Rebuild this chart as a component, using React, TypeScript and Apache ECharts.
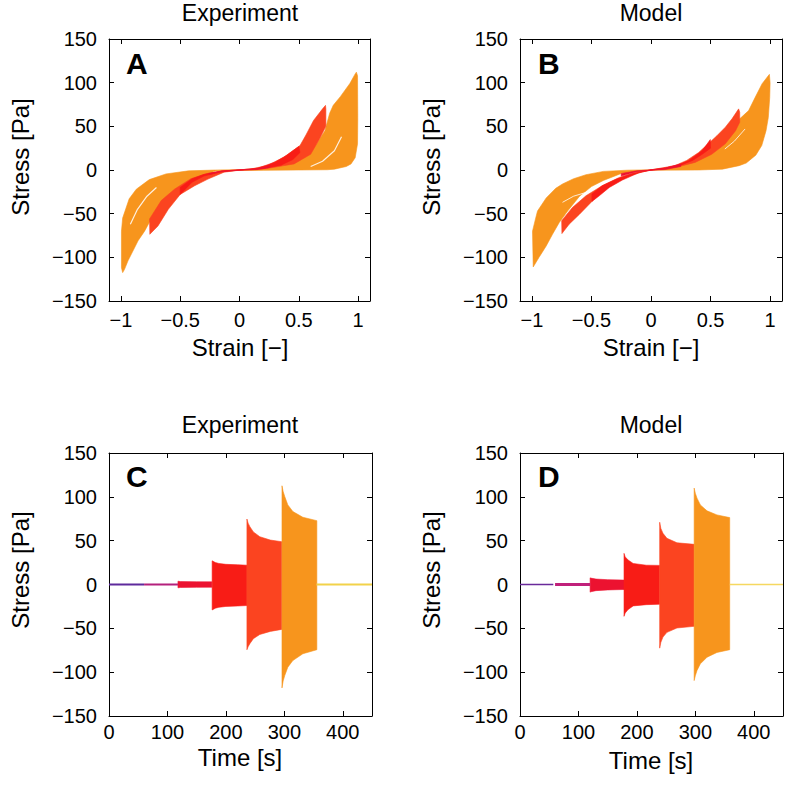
import React, { useEffect, useRef } from "react";
import * as echarts from "echarts";

type P = [number, number];

// ---------- Panel A (experiment) hysteresis loops: outlines [strain, stress]
const expOrange: P[] = [
  [-0.995, -70], [-0.985, -55], [-0.965, -47], [-0.93, -33], [-0.87, -22], [-0.8, -15], [-0.76, -11],
  [-0.62, -4.5], [-0.43, -1], [-0.2, 0], [0, 0.4], [0.2, 1.5], [0.4, 6], [0.55, 16], [0.65, 30],
  [0.72, 45], [0.76, 65], [0.79, 74], [0.85, 84], [0.93, 99], [0.975, 110], [0.985, 112],
  [0.995, 108], [0.997, 60], [0.995, 30], [0.975, 14], [0.94, 7], [0.9, 4], [0.8, 1], [0.74, 0.3],
  [0.5, 0], [0.2, -0.4], [0, -0.5], [-0.2, -1], [-0.4, -12], [-0.55, -26], [-0.66, -40], [-0.76, -60],
  [-0.8, -70], [-0.855, -81], [-0.94, -104], [-0.97, -114], [-0.985, -117.5], [-0.995, -112],
];
const expRed: P[] = [
  [-0.758, -56], [-0.66, -35], [-0.546, -21.8], [-0.41, -10], [-0.27, -4], [-0.13, -1], [0, 0.2],
  [0.09, 1], [0.232, 5], [0.372, 14.5], [0.51, 28], [0.56, 40], [0.624, 56.7], [0.7, 70], [0.725, 74],
  [0.728, 70], [0.728, 50], [0.68, 37], [0.6, 18], [0.46, 7], [0.23, 1.7], [0.1, 0.3], [0, -0.2],
  [-0.13, -2.5], [-0.266, -10.4], [-0.378, -18], [-0.5, -28], [-0.6, -45], [-0.687, -64], [-0.756, -73.6],
];
const expDarkRed: P[] = [
  [-0.5, -20], [-0.4, -10], [-0.3, -5], [-0.15, -1], [0, 0.1], [0.15, 2], [0.3, 9], [0.4, 17], [0.5, 27],
  [0.51, 20], [0.45, 12], [0.35, 5.5], [0.2, 1.5], [0, -0.1], [-0.15, -2], [-0.3, -7], [-0.4, -14], [-0.5, -28],
];
const expCrimson: P[] = [
  [-0.26, -4], [-0.15, -1.2], [0, 0.2], [0.15, 1.5], [0.26, 5], [0.25, 3], [0.15, 0.5], [0, -0.2],
  [-0.15, -1.8], [-0.25, -5],
];
const expStreak1: P[] = [[0.6, 4], [0.7, 10], [0.8, 22], [0.86, 38]];
const expStreak2: P[] = [[-0.92, -62], [-0.86, -45], [-0.78, -30], [-0.7, -20]];

// ---------- Panel B (model) hysteresis loops
const modOrange: P[] = [
  [-0.995, -70], [-0.97, -56], [-0.953, -47], [-0.88, -32], [-0.8, -21], [-0.743, -16], [-0.65, -10],
  [-0.546, -5.4], [-0.4, -1.6], [-0.2, -0.2], [0, 0.3], [0.2, 4], [0.4, 14], [0.55, 30], [0.65, 45],
  [0.74, 58], [0.82, 68], [0.876, 83.5], [0.933, 98.8], [0.994, 109.5],
  [1.0, 100], [0.997, 83], [0.985, 60], [0.966, 45], [0.93, 28], [0.88, 17], [0.8, 8], [0.74, 5],
  [0.6, 1], [0.4, 0], [0, -0.3], [-0.25, -4], [-0.4, -12], [-0.5, -19], [-0.6, -30], [-0.7, -47],
  [-0.77, -60], [-0.827, -73.6], [-0.88, -87], [-0.94, -100], [-0.989, -111],
];
const modRed: P[] = [
  [-0.75, -58], [-0.66, -43], [-0.546, -29.5], [-0.41, -18], [-0.266, -8.5], [-0.15, -3.5], [0, 0.2],
  [0.1, 1.5], [0.2, 5], [0.3, 11], [0.4, 20], [0.51, 33.7], [0.555, 39.4], [0.624, 49], [0.68, 58.6],
  [0.736, 70], [0.745, 66], [0.745, 54.7], [0.71, 45], [0.624, 30], [0.51, 18], [0.37, 8.7], [0.23, 3.8],
  [0.1, 1], [0, -0.2], [-0.04, -1], [-0.18, -6.6], [-0.29, -13], [-0.41, -23.8], [-0.496, -36],
  [-0.6, -50.6], [-0.687, -62], [-0.748, -72.8],
];
const modDarkRed: P[] = [
  [-0.496, -27.6], [-0.41, -18], [-0.29, -10.4], [-0.15, -4], [0, 0.2], [0.12, 3], [0.23, 6], [0.316, 10.7],
  [0.43, 22], [0.498, 34.8], [0.5, 25], [0.43, 18], [0.35, 11], [0.24, 5], [0.12, 1.5], [0, -0.2],
  [-0.1, -3], [-0.24, -11.5], [-0.35, -20], [-0.434, -29.5], [-0.496, -36],
];
const modCrimson: P[] = [
  [-0.25, -4], [-0.12, -1], [0, 0.2], [0.12, 2], [0.25, 6.9], [0.25, 4], [0.12, 0.5], [0, -0.2],
  [-0.12, -2], [-0.25, -7],
];
const modStreak1: P[] = [[0.62, 24], [0.7, 33], [0.79, 47]];
const modStreak2: P[] = [[-0.743, -37], [-0.65, -30], [-0.546, -25.7]];

// ---------- Panel C (experiment) time series: envelopes [s] / [Pa]
const expPurple: P[] = [[0, 0], [60, 0]];
const expMagenta: P[] = [[60, 0], [118, 0]];
const expYellow: P[] = [[355, 0], [450, 0]];
const expT3 = [118, 122, 150, 176];
const expU3 = [3.8, 3.3, 3.1, 3.0];
const expL3 = [-3.8, -3.4, -3.2, -3.1];
const expT4 = [176.5, 178, 182, 188, 200, 220, 236];
const expU4 = [27, 26.5, 25, 24, 23, 22.5, 22];
const expL4 = [-29, -28.5, -27, -26, -25, -24.5, -24];
const expT5 = [236, 238, 241, 247, 258, 276, 295.6];
const expU5 = [74.7, 70, 66, 60, 54.5, 50.7, 48.8];
const expL5 = [-74.4, -71, -67.5, -61.8, -57, -53.5, -51.2];
const expT6 = [296, 298, 300.7, 306, 314.6, 331.7, 355.6];
const expU6 = [112.6, 106, 100.3, 90.8, 83.2, 76.7, 72.8];
const expL6 = [-118, -110, -103.9, -94.3, -86.7, -79, -74.4];

// ---------- Panel D (model) time series
const modPurple: P[] = [[0, 0], [57, 0]];
const modMagenta: P[] = [[60, 0], [120, 0]];
const modYellow: P[] = [[359, 0], [450, 0]];
const modT3 = [120, 121, 130, 150, 178];
const modU3 = [7.6, 7.3, 6.2, 5.5, 5];
const modL3 = [-8.8, -8.3, -7, -6.2, -5.7];
const modT4 = [178, 180, 185, 193.6, 216, 238.8];
const modU4 = [35.5, 31.5, 27.9, 24, 22, 21.8];
const modL4 = [-36.3, -32.5, -28.6, -24.4, -23, -22.5];
const modT5 = [239, 241, 244.6, 251.4, 268.6, 298];
const modU5 = [71, 64, 58.4, 52.7, 47.6, 45.8];
const modL5 = [-72.6, -66, -60, -54.6, -49.6, -47.7];
const modT6 = [298, 300, 302.9, 308.6, 320, 337, 358.8];
const modU6 = [110, 104, 98.5, 90.8, 84, 79.4, 76.3];
const modL6 = [-109.6, -104, -98, -90.5, -82.9, -77.5, -74.4];

// ---------- ticks
const strainTicks = [-1, -0.5, 0, 0.5, 1];
const timeTicks = [0, 100, 200, 300, 400];
const stressTicks = [-150, -100, -50, 0, 50, 100, 150];

// ---------- styles
const FONT = '"Liberation Sans", Arial, Helvetica, sans-serif';
const C_PURPLE = "#5e2a9c";
const C_MAGENTA = "#b4207c";
const C_CRIMSON = "#ec1230";
const C_RED = "#f81c16";
const C_ORANGERED = "#fb4420";
const C_ORANGE = "#f7951d";
const C_YELLOW = "#f2d24a";

const minus = (v: number) => String(v).replace("-", "\u2212");

function loopSeries(loops: { pts: P[]; color: string }[], gi: number) {
  return {
    type: "custom",
    xAxisIndex: 2 * gi,
    yAxisIndex: 2 * gi,
    silent: true,
    clip: true,
    data: loops.map((l) => l.pts[0]),
    renderItem: (params: any, api: any) => {
      const l = loops[params.dataIndex];
      return {
        type: "polygon",
        shape: { points: l.pts.map((p) => api.coord(p)) },
        style: { fill: l.color, stroke: l.color, lineWidth: 0.6 },
      };
    },
  };
}

function bandSeries(bands: { t: number[]; up: number[]; lo: number[]; color: string }[], gi: number) {
  return {
    type: "custom",
    xAxisIndex: 2 * gi,
    yAxisIndex: 2 * gi,
    silent: true,
    clip: true,
    data: bands.map((b) => [b.t[0], 0]),
    renderItem: (params: any, api: any) => {
      const b = bands[params.dataIndex];
      const upper = b.t.map((x, i) => api.coord([x, b.up[i]]));
      const lower = b.t.map((x, i) => api.coord([x, b.lo[i]])).reverse();
      return {
        type: "polygon",
        shape: { points: upper.concat(lower) },
        style: { fill: b.color, stroke: b.color, lineWidth: 0.6 },
      };
    },
  };
}

function lineSeries(data: P[], gi: number, color: string, width: number, opacity = 1) {
  return {
    type: "line",
    xAxisIndex: 2 * gi,
    yAxisIndex: 2 * gi,
    data,
    silent: true,
    symbol: "none",
    showSymbol: false,
    lineStyle: { color, width, opacity },
    z: 3,
  };
}

function axisPair(gi: number, dir: "x" | "y", min: number, max: number, ticks: number[], margin: number) {
  const common = {
    type: "value",
    gridIndex: gi,
    min,
    max,
    splitLine: { show: false },
    axisLine: { show: true, onZero: false, lineStyle: { color: "#000", width: 1 } },
    axisTick: { show: true, inside: true, length: 5, customValues: ticks, lineStyle: { color: "#000", width: 1 } },
  };
  const main = {
    ...common,
    position: dir === "x" ? "bottom" : "left",
    axisLabel: {
      show: true,
      customValues: ticks,
      formatter: (v: number) => minus(v),
      color: "#000",
      fontSize: 20,
      fontFamily: FONT,
      margin,
    },
  };
  const other = { ...common, position: dir === "x" ? "top" : "right", axisLabel: { show: false } };
  return [main, other];
}

function txt(text: string, x: number, y: number, size: number, opts: any = {}) {
  return {
    type: "text",
    x,
    y,
    rotation: opts.rot || 0,
    silent: true,
    style: {
      text,
      fill: "#000",
      font: `${opts.bold ? "bold " : ""}${size}px ${FONT}`,
      fontSize: size,
      fontFamily: FONT,
      fontWeight: opts.bold ? "bold" : "normal",
      textAlign: opts.align || "center",
      align: opts.align || "center",
      textVerticalAlign: "middle",
      verticalAlign: "middle",
    },
  };
}

export default function App() {
  const ref = useRef<HTMLDivElement>(null);
  useEffect(() => {
    document.body.style.margin = "0";
    if (!ref.current) return;
    const chart = echarts.init(ref.current, null, { renderer: "svg" });
    const xAxis = [
      ...axisPair(0, "x", -1.1, 1.1, strainTicks, 9),
      ...axisPair(1, "x", -1.1, 1.1, strainTicks, 9),
      ...axisPair(2, "x", 0, 450, timeTicks, 6),
      ...axisPair(3, "x", 0, 450, timeTicks, 6),
    ];
    const yAxis = [
      ...axisPair(0, "y", -150, 150, stressTicks, 12),
      ...axisPair(1, "y", -150, 150, stressTicks, 12),
      ...axisPair(2, "y", -150, 150, stressTicks, 12),
      ...axisPair(3, "y", -150, 150, stressTicks, 12),
    ];
    const option: any = {
      animation: false,
      backgroundColor: "#fff",
      grid: [
        { left: 109, top: 39, width: 261, height: 262 },
        { left: 520, top: 39, width: 262, height: 262 },
        { left: 109, top: 453, width: 263, height: 263 },
        { left: 520, top: 453, width: 263, height: 263 },
      ],
      xAxis,
      yAxis,
      series: [
        loopSeries(
          [
            { pts: expOrange, color: C_ORANGE },
            { pts: expRed, color: C_ORANGERED },
            { pts: expDarkRed, color: C_RED },
            { pts: expCrimson, color: C_CRIMSON },
          ],
          0
        ),
        lineSeries(expStreak1, 0, "#ffffff", 1.2, 0.85),
        lineSeries(expStreak2, 0, "#ffffff", 1.2, 0.85),
        loopSeries(
          [
            { pts: modOrange, color: C_ORANGE },
            { pts: modRed, color: C_ORANGERED },
            { pts: modDarkRed, color: C_RED },
            { pts: modCrimson, color: C_CRIMSON },
          ],
          1
        ),
        lineSeries(modStreak1, 1, "#ffffff", 1, 0.8),
        lineSeries(modStreak2, 1, "#ffffff", 1, 0.8),
        bandSeries(
          [
            { t: expT3, up: expU3, lo: expL3, color: C_CRIMSON },
            { t: expT4, up: expU4, lo: expL4, color: C_RED },
            { t: expT5, up: expU5, lo: expL5, color: C_ORANGERED },
            { t: expT6, up: expU6, lo: expL6, color: C_ORANGE },
          ],
          2
        ),
        lineSeries(expPurple, 2, C_PURPLE, 2),
        lineSeries(expMagenta, 2, C_MAGENTA, 2.2),
        lineSeries(expYellow, 2, C_YELLOW, 2),
        bandSeries(
          [
            { t: modT3, up: modU3, lo: modL3, color: C_CRIMSON },
            { t: modT4, up: modU4, lo: modL4, color: C_RED },
            { t: modT5, up: modU5, lo: modL5, color: C_ORANGERED },
            { t: modT6, up: modU6, lo: modL6, color: C_ORANGE },
          ],
          3
        ),
        lineSeries(modPurple, 3, "#6a2a9a", 1.5),
        lineSeries(modMagenta, 3, "#c0207a", 3),
        lineSeries(modYellow, 3, "#f5d860", 1.5),
      ],
      graphic: [
        txt("Experiment", 240, 13, 23),
        txt("Model", 651, 13, 23),
        txt("Experiment", 240, 425, 23),
        txt("Model", 651, 425, 23),
        txt("Stress [Pa]", 20, 157, 24, { rot: Math.PI / 2 }),
        txt("Stress [Pa]", 431, 157, 24, { rot: Math.PI / 2 }),
        txt("Stress [Pa]", 20, 570, 24, { rot: Math.PI / 2 }),
        txt("Stress [Pa]", 431, 570, 24, { rot: Math.PI / 2 }),
        txt("Strain [\u2212]", 240, 347, 24),
        txt("Strain [\u2212]", 651, 347, 24),
        txt("Time [s]", 240, 757, 24),
        txt("Time [s]", 651, 760, 24),
        txt("A", 126, 63, 30, { bold: true, align: "left" }),
        txt("B", 538, 63, 30, { bold: true, align: "left" }),
        txt("C", 126, 476, 30, { bold: true, align: "left" }),
        txt("D", 538, 476, 30, { bold: true, align: "left" }),
      ],
    };
    chart.setOption(option);
    return () => chart.dispose();
  }, []);
  return <div ref={ref} style={{ width: 786, height: 789 }} />;
}
